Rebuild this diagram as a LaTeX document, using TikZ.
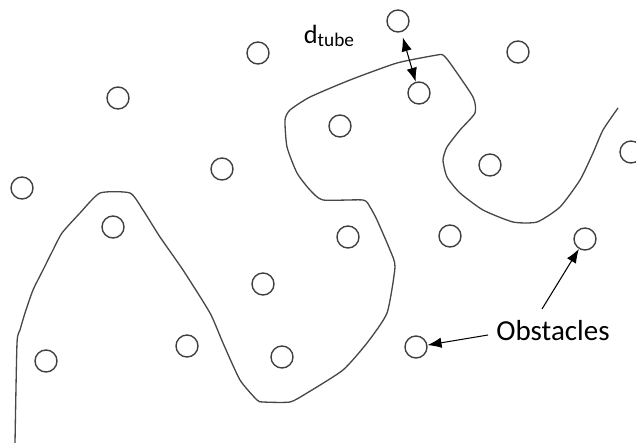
\documentclass[tikz,border=0pt]{standalone}
\usepackage{fontspec}
\setmainfont{Carlito}
\usetikzlibrary{arrows.meta}

\begin{document}
\begin{tikzpicture}[x=0.02cm, y=-0.02cm,
    obstacle/.style={circle, draw=black!75, line width=0.8pt, minimum size=0.44cm, inner sep=0pt},
    arr/.style={-{Latex[length=0.28cm, width=0.21cm]}, line width=0.6pt}]
    \useasboundingbox (0,0) rectangle (636,443);

    % Obstacles
    \foreach \x/\y [count=\i] in {398/21, 258/53, 518/52, 118/98, 419/93, 340/126,
        222/169, 22/188, 490/165, 631/152, 113/227, 348/237, 450/236, 585/239,
        263/284, 46/361, 187/346, 282/357, 416/347}
        \node[obstacle] (o\i) at (\x,\y) {};

    % Tube
    \draw[black!72, line width=0.75pt] plot[smooth, tension=0.35] coordinates {
        (15,443) (17,343) (20,330) (25,313) (33,290) (43,270) (52,252) (62,233)
        (80,213) (100,193) (130,193) (143,210) (160,237) (183,270) (210,313)
        (223,343) (240,380) (257,400) (263,402) (290,402) (307,393) (343,370)
        (367,343) (387,313) (395,267) (390,250) (377,220) (370,207) (363,200)
        (323,200) (310,190) (297,173) (287,147) (285,120) (290,110) (310,97)
        (350,80) (397,63) (437,55) (443,55) (450,63) (473,97) (475,113)
        (460,130) (447,147) (443,160) (447,177) (460,193) (483,210) (513,222)
        (537,222) (560,207) (580,180) (593,153) (603,130) (618,108)};

    % Tube width
    \node (dtube) at (329,36) {\fontsize{15}{17}\selectfont d\raisebox{-1.5pt}{\fontsize{11}{13}\selectfont tube}};
    \draw[{Latex[length=0.28cm, width=0.21cm]}-{Latex[length=0.28cm, width=0.21cm]}, line width=0.6pt, shorten <=3pt] (o1) -- (o5);

    % Label
    \node (obs) at (553,331) {\fontsize{16.5}{19}\selectfont Obstacles};
    \coordinate (s1) at (542,309);
    \coordinate (s2) at (488,335);
    \draw[arr] (s1) -- (o14);
    \draw[arr] (s2) -- (o19);
\end{tikzpicture}
\end{document}
